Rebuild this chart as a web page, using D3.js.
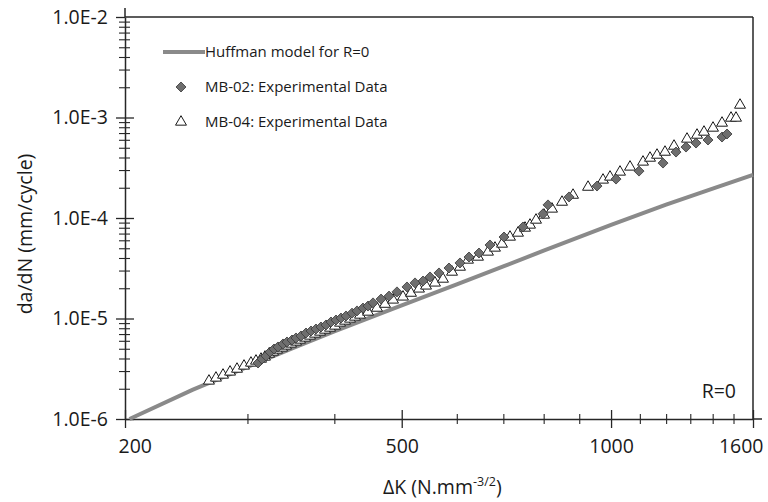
<!DOCTYPE html>
<html>
<head>
<meta charset="utf-8">
<script src="https://cdn.jsdelivr.net/npm/d3@7"></script>
<style>
  body { margin: 0; background: #ffffff; }
  text { font-family: "Open Sans", "Liberation Sans", sans-serif; fill: #1a1a1a; }
</style>
</head>
<body>
<svg id="chart" width="768" height="502"></svg>
<script>
// Huffman crack growth model, R = 0
const huffmanDeltaK = [203, 250, 300, 350, 400, 500, 600, 700, 800, 1000, 1200, 1400, 1600];
const huffmanRate   = [1.0e-6, 1.95e-6, 3.30e-6, 5.13e-6, 7.43e-6, 1.35e-5, 2.18e-5, 3.30e-5, 4.73e-5, 8.56e-5, 1.36e-4, 1.96e-4, 2.68e-4];

// MB-02 experimental data
const mb02DeltaK = [310.7, 314.8, 319.0, 323.3, 327.6, 331.9, 337.5, 342.0, 347.7, 352.3, 358.2, 364.2, 370.3, 376.4, 382.7,
  389.1, 395.6, 402.2, 408.9, 415.8, 424.1, 431.2, 439.8, 447.2, 454.7, 466.9, 479.4, 492.2, 508.8, 522.5, 536.5, 549.1,
  565.7, 584.7, 606.4, 624.8, 645.8, 669.8, 701.5, 747.1, 798.3, 811.6, 870.1, 954.6, 1016.6, 1097.0, 1187.7, 1240.0,
  1281.7, 1324.9, 1378.6, 1444.0, 1468.1];
const mb02Rate = [3.61e-6, 3.95e-6, 4.24e-6, 4.64e-6, 4.97e-6, 5.21e-6, 5.58e-6, 5.84e-6, 6.11e-6, 6.40e-6, 6.70e-6, 7.17e-6,
  7.51e-6, 7.86e-6, 8.23e-6, 8.62e-6, 9.23e-6, 9.66e-6, 1.01e-5, 1.06e-5, 1.13e-5, 1.19e-5, 1.27e-5, 1.33e-5, 1.43e-5,
  1.56e-5, 1.67e-5, 1.84e-5, 2.06e-5, 2.26e-5, 2.36e-5, 2.59e-5, 2.84e-5, 3.18e-5, 3.57e-5, 4.09e-5, 4.48e-5, 5.39e-5,
  6.47e-5, 8.14e-5, 1.10e-4, 1.35e-4, 1.62e-4, 2.08e-4, 2.44e-4, 2.93e-4, 3.52e-4, 4.53e-4, 5.08e-4, 5.57e-4, 5.97e-4,
  6.39e-4, 6.85e-4];

// MB-04 experimental data
const mb04DeltaK = [264.1, 270.3, 276.7, 283.2, 289.8, 296.6, 303.5, 308.6, 313.8, 317.9, 322.2, 326.5, 330.8, 336.4, 340.8,
  346.5, 352.3, 357.0, 363.0, 369.0, 375.2, 381.5, 387.8, 394.3, 400.9, 407.6, 414.4, 421.3, 428.3, 435.5, 447.2, 460.7,
  473.1, 485.8, 502.1, 515.6, 529.4, 541.9, 558.2, 573.2, 590.6, 606.4, 622.7, 643.7, 665.3, 680.9, 696.9, 715.6, 734.8,
  752.1, 764.6, 780.0, 800.9, 822.4, 850.1, 881.7, 926.6, 973.7, 996.6, 1030.1, 1064.8, 1111.6, 1137.7, 1164.4, 1195.6,
  1231.8, 1286.0, 1329.3, 1360.4, 1401.6, 1444.0, 1487.7, 1512.5, 1532.7];
const mb04Rate = [2.39e-6, 2.56e-6, 2.74e-6, 2.94e-6, 3.14e-6, 3.37e-6, 3.61e-6, 3.78e-6, 3.95e-6, 4.14e-6, 4.43e-6, 4.64e-6,
  4.86e-6, 5.09e-6, 5.33e-6, 5.58e-6, 5.84e-6, 6.11e-6, 6.40e-6, 6.70e-6, 7.01e-6, 7.34e-6, 7.68e-6, 8.04e-6, 8.42e-6,
  9.02e-6, 9.44e-6, 9.89e-6, 1.035e-5, 1.083e-5, 1.16e-5, 1.27e-5, 1.39e-5, 1.53e-5, 1.64e-5, 1.79e-5, 1.97e-5, 2.11e-5,
  2.26e-5, 2.47e-5, 2.90e-5, 3.25e-5, 3.82e-5, 4.09e-5, 4.59e-5, 5.03e-5, 5.51e-5, 6.47e-5, 7.09e-5, 7.95e-5, 8.52e-5,
  9.55e-5, 1.071e-4, 1.23e-4, 1.44e-4, 1.69e-4, 2.03e-4, 2.39e-4, 2.56e-4, 2.87e-4, 3.22e-4, 3.61e-4, 3.95e-4, 4.23e-4,
  4.53e-4, 5.20e-4, 6.11e-4, 6.69e-4, 7.17e-4, 7.86e-4, 8.81e-4, 9.88e-4, 9.88e-4, 1.33e-3];

// Axis ticks and labels
const xMajorTicks = [200, 500, 1000, 1600];
const xTickLabels = ["200", "500", "1000", "1600"];
const xMinorTicks = [300, 400, 600, 700, 800, 900, 1100, 1200, 1300, 1400, 1500];
const yMajorTicks = [1e-6, 1e-5, 1e-4, 1e-3, 1e-2];
const yTickLabels = ["1.0E-6", "1.0E-5", "1.0E-4", "1.0E-3", "1.0E-2"];

const seriesNames = ["Huffman model for R=0", "MB-02: Experimental Data", "MB-04: Experimental Data"];

const svg = d3.select("#chart");
const x = d3.scaleLog().domain([200, 1600]).range([125, 753]);
const y = d3.scaleLog().domain([1e-6, 1e-2]).range([419, 17]);
const axisColor = "#262626";

// Minor y ticks: 2..9 within each decade
const yMinorTicks = y.ticks().filter(v => !yMajorTicks.some(m => Math.abs(v / m - 1) < 1e-9));

// Frame (top and right edges)
const frame = svg.append("g").attr("stroke", axisColor).attr("stroke-width", 1.5);
frame.append("line").attr("x1", x(200)).attr("x2", x(1600)).attr("y1", y(1e-2)).attr("y2", y(1e-2));
frame.append("line").attr("x1", x(1600)).attr("x2", x(1600)).attr("y1", y(1e-2)).attr("y2", y(1e-6));
frame.append("line").attr("x1", x(200)).attr("x2", x(200)).attr("y1", y(1e-2) - 9).attr("y2", y(1e-2));
frame.append("line").attr("x1", x(1600)).attr("x2", x(1600) + 9).attr("y1", y(1e-6)).attr("y2", y(1e-6));

// Y axis
const yAxis = svg.append("g").attr("transform", `translate(${x(200)},0)`)
  .call(d3.axisLeft(y).tickValues(yMajorTicks).tickSize(0).tickPadding(17)
    .tickFormat((d, i) => yTickLabels[i]));
yAxis.select(".domain").attr("stroke", axisColor).attr("stroke-width", 1.5);
yAxis.selectAll(".tick line").attr("x1", -9).attr("x2", 9).attr("stroke", axisColor).attr("stroke-width", 1.3);
yAxis.selectAll(".tick text").attr("font-size", 19.5).attr("fill", "#1a1a1a")
  .style("font-family", '"Open Sans", sans-serif');
yAxis.selectAll(".tick").filter(d => d === 1e-2).select("line").attr("x2", 0);
const yMinor = svg.append("g").attr("transform", `translate(${x(200)},0)`)
  .call(d3.axisLeft(y).tickValues(yMinorTicks).tickSize(0).tickFormat(""));
yMinor.select(".domain").remove();
yMinor.selectAll(".tick line").attr("x1", -6).attr("x2", 5).attr("stroke", axisColor).attr("stroke-width", 1.1);

// X axis
const xAxis = svg.append("g").attr("transform", `translate(0,${y(1e-6)})`)
  .call(d3.axisBottom(x).tickValues(xMajorTicks).tickSize(0).tickPadding(20)
    .tickFormat((d, i) => xTickLabels[i]));
xAxis.select(".domain").attr("stroke", axisColor).attr("stroke-width", 1.5);
xAxis.selectAll(".tick line").attr("y1", -9).attr("y2", 9).attr("stroke", axisColor).attr("stroke-width", 1.3);
xAxis.selectAll(".tick text").attr("font-size", 19.5).attr("fill", "#1a1a1a")
  .style("font-family", '"Open Sans", sans-serif');
xAxis.selectAll(".tick").filter(d => d === 200).select("text").attr("text-anchor", "start").attr("x", -7);
xAxis.selectAll(".tick").filter(d => d === 1600).select("text").attr("text-anchor", "end").attr("x", 10);
const xMinor = svg.append("g").attr("transform", `translate(0,${y(1e-6)})`)
  .call(d3.axisBottom(x).tickValues(xMinorTicks).tickSize(0).tickFormat(""));
xMinor.select(".domain").remove();
xMinor.selectAll(".tick line").attr("y1", -5).attr("y2", 5).attr("stroke", axisColor).attr("stroke-width", 1.1);

// Axis titles
const xTitle = svg.append("text").attr("x", 383).attr("y", 494).attr("font-size", 19.5);
xTitle.append("tspan").text("ΔK (N.mm");
xTitle.append("tspan").attr("font-size", 12.5).attr("dy", -8).text("-3/2");
xTitle.append("tspan").attr("dy", 8).text(")");

svg.append("text").attr("transform", "translate(32,234) rotate(-90)")
  .attr("text-anchor", "middle").attr("font-size", 19.5).text("da/dN (mm/cycle)");

// Huffman model curve
const line = d3.line().x(d => x(d[0])).y(d => y(d[1]));
svg.append("path").datum(d3.zip(huffmanDeltaK, huffmanRate))
  .attr("d", line).attr("fill", "none").attr("stroke", "#8a8a8a").attr("stroke-width", 4);

// Markers
const triangle = d3.symbol().type(d3.symbolTriangle).size(52);
const diamond = d3.symbol().type(d3.symbolSquare).size(50);

svg.append("g").selectAll("path").data(d3.zip(mb04DeltaK, mb04Rate)).join("path")
  .attr("d", triangle)
  .attr("transform", d => `translate(${x(d[0])},${y(d[1])})`)
  .attr("fill", "#ffffff").attr("stroke", "#1a1a1a").attr("stroke-width", 1);

svg.append("g").selectAll("path").data(d3.zip(mb02DeltaK, mb02Rate)).join("path")
  .attr("d", diamond)
  .attr("transform", d => `translate(${x(d[0])},${y(d[1])}) rotate(45)`)
  .attr("fill", "#6e6e6e").attr("stroke", "#3c3c3c").attr("stroke-width", 0.8);

// Legend
const legend = svg.append("g");
legend.append("line").attr("x1", 163).attr("x2", 205).attr("y1", 52).attr("y2", 52)
  .attr("stroke", "#8a8a8a").attr("stroke-width", 4);
legend.append("path").attr("d", diamond).attr("transform", "translate(181,87) rotate(45)")
  .attr("fill", "#6e6e6e").attr("stroke", "#3c3c3c").attr("stroke-width", 0.8);
legend.append("path").attr("d", triangle).attr("transform", "translate(181,122)")
  .attr("fill", "#ffffff").attr("stroke", "#1a1a1a").attr("stroke-width", 1);
[52, 87, 122].forEach((yy, i) => {
  legend.append("text").attr("x", 205).attr("y", yy).attr("dy", "0.35em")
    .attr("font-size", 15).text(seriesNames[i]);
});

// Stress ratio annotation
svg.append("text").attr("x", 736).attr("y", 398).attr("text-anchor", "end")
  .attr("font-size", 19.5).text("R=0");
</script>
</body>
</html>
